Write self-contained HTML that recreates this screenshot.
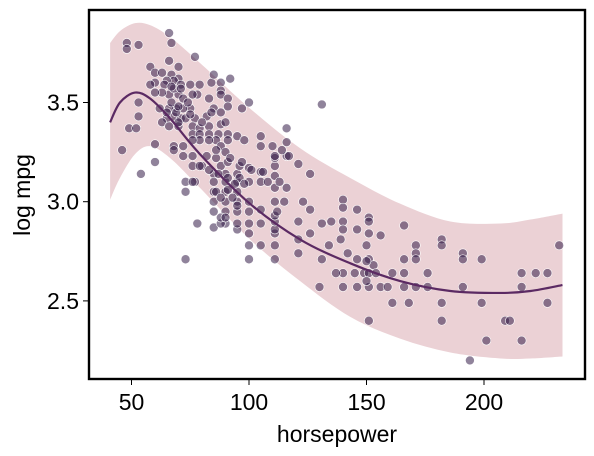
<!DOCTYPE html>
<html><head><meta charset="utf-8"><style>
html,body{margin:0;padding:0;background:#fff;}
svg{display:block;font-family:"Liberation Sans",sans-serif;}
</style></head><body>
<svg id="chart" width="594" height="456" viewBox="0 0 594 456" xmlns="http://www.w3.org/2000/svg">
<rect width="594" height="456" fill="#fff"/>
<g id="band"></g>
<g id="pts"></g>
<g id="fit"></g>
<rect x="89" y="10" width="496" height="369" fill="none" stroke="#000" stroke-width="2.4"/>
<g id="axes"></g>
<text x="337" y="442" text-anchor="middle" font-size="23">horsepower</text>
<text transform="translate(30,195) rotate(-90)" text-anchor="middle" font-size="23">log mpg</text>
</svg>
<script>
const hp = [
140,140,146,140,140,146,151,151,151,156,166,150,151,153,146,142,140,149,151,154,161,166,176,140,146,151,156,159,166,171,176,161,168,182,151,182,171,171,171,166,182,182,191,191,199,191,199,209,211,201,216,194,216,222,227,216,227,232,
73,78,85,100,100,105,111,111,100,111,111,111,111,105,100,100,95,95,90,88,85,85,85,90,90,90,95,95,95,100,105,111,111,116,111,111,111,105,105,100,100,95,95,90,90,88,85,85,80,77,73,73,76,113,116,121,126,121,121,121,126,123,126,131,131,135,134,139,137,130,
48,48,53,66,67,77,66,58,70,60,63,67,70,68,65,60,58,64,71,75,79,84,85,88,92,88,88,91,83,78,76,70,66,63,60,53,100,97,91,85,82,77,75,72,69,66,62,68,65,63,71,73,76,79,83,88,90,53,49,52,66,70,76,79,83,87,91,95,91,86,83,79,76,72,68,60,46,98,105,105,116,116,114,117,111,108,106,101,96,91,86,82,76,72,68,79,83,87,91,96,98,94,86,91,76,60,54,131,
67,69,72,65,70,74,68,71,88,90,92,86,88,93,95,97,88,90,110,112,115,150,145,150,67,70,75,80,84,88
];
const logMpg = [
3.01,2.97,2.96,2.90,2.86,2.86,2.92,2.90,2.84,2.83,2.88,2.78,2.71,2.68,2.71,2.74,2.64,2.64,2.64,2.64,2.64,2.64,2.64,2.57,2.57,2.57,2.57,2.57,2.57,2.57,2.57,2.49,2.49,2.49,2.40,2.40,2.78,2.74,2.71,2.71,2.81,2.78,2.74,2.71,2.71,2.57,2.49,2.40,2.40,2.30,2.30,2.20,2.64,2.64,2.64,2.57,2.49,2.78,
2.71,2.89,2.87,2.71,2.78,2.78,2.78,2.71,2.84,2.84,2.86,2.90,2.93,2.89,2.89,2.95,2.86,2.89,2.89,2.89,2.95,3.00,3.05,3.05,3.00,2.95,2.95,3.00,3.05,3.00,2.96,3.00,3.07,3.07,3.13,3.18,3.22,3.15,3.10,3.10,3.17,3.10,3.14,3.10,3.14,3.18,3.14,3.10,3.18,3.10,3.10,3.05,3.18,3.10,3.23,3.19,3.14,2.90,2.81,2.74,2.84,3.00,2.96,2.89,2.71,2.90,2.78,2.81,2.64,2.57,
3.80,3.77,3.79,3.85,3.80,3.73,3.71,3.68,3.68,3.65,3.65,3.64,3.62,3.61,3.61,3.60,3.59,3.59,3.59,3.59,3.59,3.60,3.64,3.60,3.62,3.56,3.54,3.52,3.52,3.54,3.54,3.54,3.54,3.55,3.55,3.50,3.50,3.47,3.48,3.47,3.43,3.42,3.47,3.47,3.47,3.47,3.47,3.43,3.42,3.40,3.42,3.42,3.38,3.37,3.38,3.39,3.40,3.43,3.37,3.37,3.38,3.38,3.34,3.34,3.34,3.34,3.34,3.33,3.31,3.31,3.31,3.31,3.31,3.28,3.28,3.29,3.26,3.31,3.33,3.28,3.37,3.30,3.26,3.23,3.23,3.10,3.15,3.16,3.18,3.20,3.22,3.23,3.23,3.23,3.26,3.18,3.16,3.14,3.12,3.12,3.09,3.09,3.05,3.06,3.10,3.20,3.14,3.49,
3.50,3.45,3.52,3.45,3.40,3.50,3.57,3.57,3.28,3.25,3.22,3.26,3.02,3.02,2.98,3.20,2.92,2.92,3.28,2.95,3.00,2.70,2.64,2.60,3.58,3.48,3.44,3.40,3.45,3.45
];
const fitHp = [40.9,45.1,51.5,57.9,66.4,79.1,100.4,121.7,143,164.3,185.7,207,219.8,233.4];
const fitMid = [3.40,3.50,3.55,3.52,3.42,3.24,2.99,2.81,2.69,2.60,2.55,2.54,2.55,2.58];
const fitUpper = [3.80,3.86,3.90,3.89,3.83,3.70,3.47,3.27,3.12,2.99,2.90,2.89,2.91,2.94];
const fitLower = [3.01,3.12,3.24,3.28,3.22,3.07,2.81,2.60,2.42,2.31,2.24,2.21,2.21,2.22];
const xTicks = [50,100,150,200];
const yTicks = [2.5,3.0,3.5];
const yTickLabels = ["2.5","3.0","3.5"];

const NS = "http://www.w3.org/2000/svg";
function xs(v){ return 131.5 + (v-50)*2.35; }
function ys(v){ return 201.7 - (v-3)*198.4; }
function mk(tag, attrs, parent){ const e=document.createElementNS(NS,tag); for(const k in attrs) e.setAttribute(k,attrs[k]); parent.appendChild(e); return e; }
function smooth(px, py){
  let d = "M"+px[0].toFixed(2)+","+py[0].toFixed(2);
  for(let i=0;i<px.length-1;i++){
    const x0=px[Math.max(i-1,0)], y0=py[Math.max(i-1,0)];
    const x1=px[i], y1=py[i], x2=px[i+1], y2=py[i+1];
    const x3=px[Math.min(i+2,px.length-1)], y3=py[Math.min(i+2,px.length-1)];
    d += " C"+(x1+(x2-x0)/6).toFixed(2)+","+(y1+(y2-y0)/6).toFixed(2)+" "+(x2-(x3-x1)/6).toFixed(2)+","+(y2-(y3-y1)/6).toFixed(2)+" "+x2.toFixed(2)+","+y2.toFixed(2);
  }
  return d;
}
const bx = fitHp.map(xs);
const up = smooth(bx, fitUpper.map(ys));
const lo = smooth(bx.slice().reverse(), fitLower.map(ys).reverse());
const band = mk("path",{d: up + " L" + lo.slice(1) + " Z", fill:"#ebd1d5", stroke:"none"}, document.getElementById("band"));


const pg = document.getElementById("pts");
for(let i=0;i<hp.length;i++){
  const c = mk("circle",{cx:xs(hp[i]).toFixed(2), cy:ys(logMpg[i]).toFixed(2), r:4.5, fill:"rgba(52,30,72,0.55)", stroke:"#fff", "stroke-width":0.6}, pg);
  
  
}
const fl = mk("path",{d: smooth(bx, fitMid.map(ys)), fill:"none", stroke:"#5b2a63", "stroke-width":2.2}, document.getElementById("fit"));


const ax = document.getElementById("axes");
xTicks.forEach(function(t){
  const x = xs(t);
  const tk = mk("line",{x1:x,x2:x,y1:379,y2:385,stroke:"#000","stroke-width":1}, ax);
  
  
  const lb = mk("text",{x:x,y:410,"text-anchor":"middle","font-size":23}, ax);
  lb.textContent = String(t);
  
  
});
yTicks.forEach(function(t,i){
  const y = ys(t);
  const tk = mk("line",{x1:83,x2:89,y1:y,y2:y,stroke:"#000","stroke-width":1}, ax);
  
  
  const lb = mk("text",{x:79,y:y+8,"text-anchor":"end","font-size":23}, ax);
  lb.textContent = yTickLabels[i];
  
  
});
</script>
</body></html>
